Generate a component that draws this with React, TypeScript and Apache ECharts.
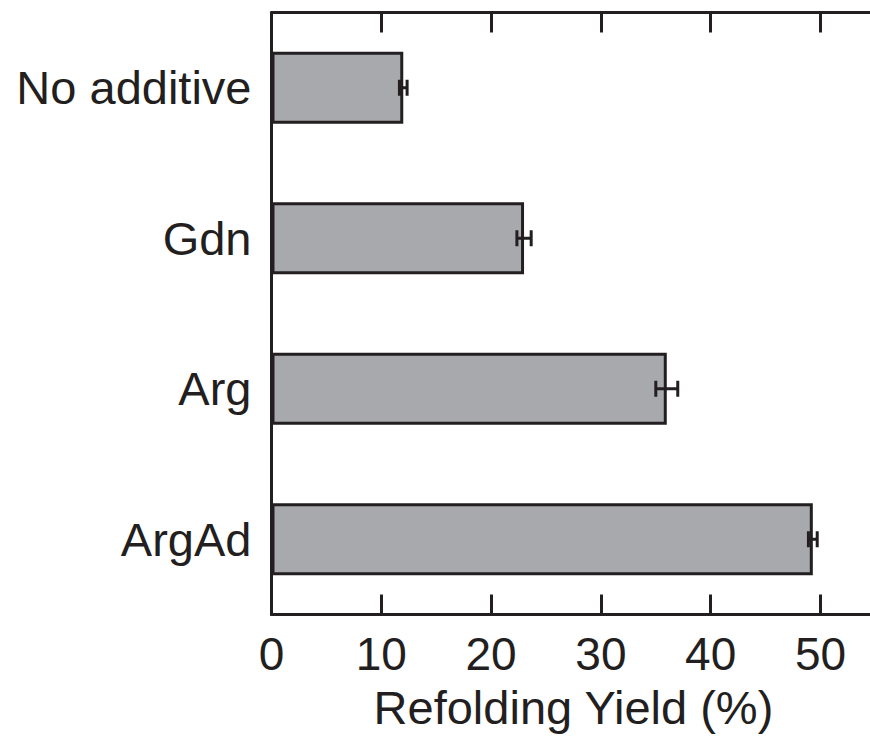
import React, { useEffect, useRef } from "react";
import * as echarts from "echarts";

// Refolding yield per additive, with standard deviation
const categories = ["No additive", "Gdn", "Arg", "ArgAd"];
const yieldMeans = [12.0, 23.0, 36.0, 49.3];
const yieldErrors = [0.35, 0.65, 1.0, 0.4];

const INK = "#231f20";
const FONT = "'Liberation Sans', Arial, Helvetica, sans-serif";

export default function App() {
  const ref = useRef<HTMLDivElement>(null);

  useEffect(() => {
    if (!ref.current) return;
    const chart = echarts.init(ref.current, null, { renderer: "svg" });

    const errorData = yieldMeans.map((m, i) => [m - yieldErrors[i], m + yieldErrors[i], i]);

    const valueAxisBase = {
      type: "value" as const,
      min: 0,
      max: 55,
      interval: 10,
      splitLine: { show: false },
      axisLine: { show: true, lineStyle: { color: INK, width: 3 } },
      axisTick: { show: true, inside: true, length: 20, lineStyle: { color: INK, width: 3 } },
    };

    chart.setOption({
      animation: false,
      backgroundColor: "#ffffff",
      grid: { left: 271.5, top: 12.5, bottom: 125.5, right: 4.6, containLabel: false },
      xAxis: [
        {
          ...valueAxisBase,
          position: "bottom",
          name: "Refolding Yield (%)",
          nameLocation: "middle",
          nameGap: 69,
          nameTextStyle: { color: INK, fontSize: 47, fontFamily: FONT },
          axisLabel: {
            color: INK,
            fontSize: 46,
            fontFamily: FONT,
            margin: 16,
            showMaxLabel: false,
          },
        },
        {
          ...valueAxisBase,
          position: "top",
          axisLabel: { show: false },
        },
      ],
      yAxis: {
        type: "category",
        inverse: true,
        data: categories,
        axisLine: { show: true, lineStyle: { color: INK, width: 3 } },
        axisTick: { show: false },
        splitLine: { show: false },
        axisLabel: { color: INK, fontSize: 47, fontFamily: FONT, margin: 20 },
      },
      series: [
        {
          type: "bar",
          data: yieldMeans,
          barWidth: 72,
          itemStyle: { color: "#a7a9ac", borderColor: INK, borderWidth: 3 },
          z: 2,
        },
        {
          type: "custom",
          data: errorData,
          encode: { x: [0, 1], y: 2 },
          z: 3,
          renderItem: (params: any, api: any) => {
            const idx = api.value(2);
            const lo = api.coord([api.value(0), idx]);
            const hi = api.coord([api.value(1), idx]);
            const half = 8;
            const style = { stroke: INK, lineWidth: 3, fill: "none" };
            return {
              type: "group",
              children: [
                { type: "line", shape: { x1: lo[0], y1: lo[1], x2: hi[0], y2: hi[1] }, style },
                { type: "line", shape: { x1: lo[0], y1: lo[1] - half, x2: lo[0], y2: lo[1] + half }, style },
                { type: "line", shape: { x1: hi[0], y1: hi[1] - half, x2: hi[0], y2: hi[1] + half }, style },
              ],
            };
          },
        },
      ],
    });

    return () => chart.dispose();
  }, []);

  return (
    <div
      style={{
        position: "absolute",
        left: 0,
        top: 0,
        width: 870,
        height: 740,
        overflow: "hidden",
        background: "#ffffff",
      }}
    >
      <div ref={ref} style={{ width: 880, height: 740 }} />
    </div>
  );
}
